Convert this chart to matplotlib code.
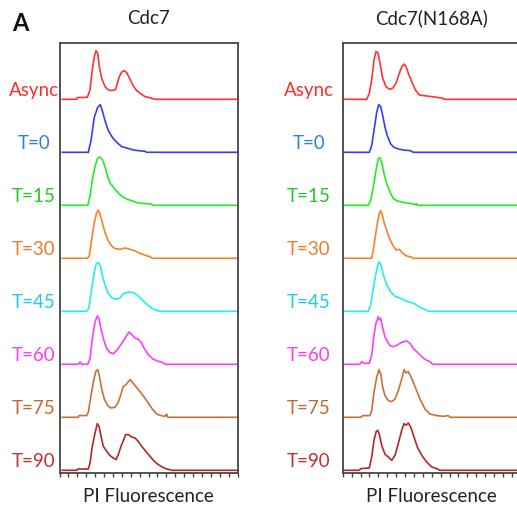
import matplotlib.pyplot as plt
import numpy as np

plt.rcParams['font.family'] = ['Lato', 'DejaVu Sans']

labels = ["Async", "T=0", "T=15", "T=30", "T=45", "T=60", "T=75", "T=90"]
line_colors = ["#ff3333", "#3a3aff", "#22ee22", "#ff7f27", "#22eeee", "#ff3cff", "#c8703a", "#b0282c"]
label_colors = ["#ff2a2a", "#2a7fe0", "#20c820", "#f07a2a", "#20c8e8", "#ff3cf0", "#c06a30", "#c03034"]

# histogram outlines, (channel, counts) pairs; counts in trace units above each baseline
wt_async = [(2.8, 0), (17.2, 0), (17.8, 1.7), (27.8, 2), (30.5, 9.3), (32.8, 29.3), (34.8, 42.7),
            (36.5, 48.7), (38.2, 46), (39.8, 32.7), (42.2, 21), (45.5, 12.7), (48.8, 9.3), (52.8, 8.7),
            (56.2, 10), (59.5, 22), (62.2, 27.3), (64.8, 28.7), (67.2, 26.7), (70.5, 20), (73.8, 13.3),
            (77.2, 8.7), (81.5, 5.3), (85.5, 2.7), (88.8, 2), (95.5, 0), (177.2, 0)]
wt_t0 = [(2.8, 0), (28.8, 0), (31.5, 11.7), (34.8, 35), (38.2, 45), (40.8, 47.7), (42.8, 41.7),
         (45.5, 31.7), (48.8, 21.7), (52.8, 15), (57.2, 10), (62.2, 5.7), (67.2, 4.3), (73.8, 2.3),
         (78.8, 1.7), (85.5, 1), (87.2, 0), (177.2, 0)]
wt_t15 = [(2.8, 0), (28.2, 0), (30.5, 9), (32.8, 25.7), (35.5, 39), (38.2, 47.3), (40.5, 48.3),
          (42.8, 45.7), (45.5, 39), (48.2, 29), (50.5, 22.3), (53.8, 18.3), (57.2, 14), (62.2, 9),
          (67.2, 6.3), (73.8, 4), (78.8, 2.3), (85.5, 1.7), (92.2, 1.3), (92.8, 0), (177.2, 0)]
wt_t30 = [(2.8, 0), (27.8, 0), (29.8, 2.3), (32.2, 19), (34.8, 35.7), (37.2, 45.7), (38.8, 48.3),
          (40.5, 44), (42.8, 35.7), (45.5, 25.7), (48.8, 17.3), (52.2, 12.3), (55.5, 9.7), (60.5, 9),
          (65.5, 10.3), (70.5, 9), (75.5, 7.3), (80.5, 5), (85.5, 3), (90.5, 1.7), (92.8, 0), (177.2, 0)]
wt_t45 = [(2.8, 0), (27.2, 0), (29.5, 3.3), (32.2, 22.7), (34.8, 39.3), (36.8, 47.7), (38.8, 48.7),
          (40.8, 46), (42.8, 36), (45.5, 26), (48.8, 17.7), (52.8, 13.3), (57.2, 12), (60.5, 13.3),
          (63.8, 17.7), (68.8, 19.3), (73.8, 18.7), (78.2, 16), (81.5, 12.7), (85.5, 8.7), (90.5, 4.3),
          (94.8, 1.7), (100.5, 0), (177.2, 0)]
wt_t60 = [(2.8, 0), (18.8, 0), (20.5, 2.3), (22.2, 0), (28.2, 0), (30.5, 5.7), (32.8, 25.7), (35.5, 42.3),
          (37.8, 48.3), (39.5, 45.7), (41.5, 35.7), (43.8, 25.7), (47.2, 15.7), (50.5, 11.7), (53.8, 10.7),
          (57.2, 14), (62.2, 20.7), (66.2, 27.3), (69.5, 32.3), (72.2, 29.7), (75.5, 26.3), (78.8, 25),
          (81.5, 22.3), (84.8, 15.7), (88.8, 9.7), (93.8, 5), (98.8, 3), (103.8, 1.7), (105.5, 0), (177.2, 0)]
wt_t75 = [(2.8, 0), (18.8, 0), (19.5, 1.7), (27.2, 1.7), (28.8, 5), (31.5, 21.7), (33.8, 35), (36.2, 45.7),
          (38.2, 47.7), (39.8, 41.7), (42.2, 28.3), (44.8, 18.3), (48.2, 11.7), (51.5, 9.3), (55.5, 10),
          (58.8, 15), (61.5, 23.3), (63.8, 31), (66.2, 32.3), (68.8, 35.7), (70.8, 37.7), (72.8, 35),
          (76.2, 31), (80.5, 25.7), (84.8, 20), (88.8, 14.3), (92.8, 8.3), (97.2, 3.3), (101.5, 1.7),
          (105.5, 1), (107.2, 3.3), (108.2, 0), (177.2, 0)]
wt_t90 = [(2.8, 0), (17.2, 0), (18.2, 1.3), (28.8, 1.3), (30.5, 7.3), (32.8, 24), (35.5, 37.3), (37.8, 46.7),
          (39.5, 44), (41.5, 34), (43.8, 24), (47.2, 19), (50.5, 14.7), (53.8, 12.3), (56.5, 10.7),
          (58.8, 15.7), (61.5, 24), (64.2, 30.7), (66.2, 35.7), (68.8, 35.7), (72.2, 33.3), (75.5, 32.3),
          (78.8, 29), (82.2, 24), (86.2, 19), (90.5, 14), (94.8, 9), (98.8, 5.7), (102.8, 3.3),
          (107.2, 1.3), (112.2, 0), (177.2, 0)]

mut_async = [(1.3, 0), (24, 0), (26.6, 6), (29, 19.3), (31.3, 39.3), (33.3, 47.7), (35.3, 46.7), (37.3, 36),
             (40, 21), (43.3, 12.7), (46.6, 10), (50, 11), (53.3, 16), (56.6, 26), (59.3, 32.7), (61.3, 35.3),
             (63.3, 32.7), (65.6, 26), (69, 17.7), (72.3, 10), (76.6, 4.3), (84, 3.3), (94, 2), (100.6, 1),
             (101.3, 0), (180, 0)]
mut_t0 = [(1.3, 0), (26.6, 0), (29, 6.7), (31.3, 21.7), (34, 40), (36, 47.7), (38, 45.7), (40, 36.7),
          (42.3, 25), (44.6, 16.7), (48, 8.3), (51.3, 5), (55.6, 3.3), (60.6, 2.3), (67.3, 1.7), (70.6, 0),
          (180, 0)]
mut_t15 = [(1.3, 0), (25.6, 0), (28, 5), (30.6, 18.3), (33.3, 35), (35.6, 46.7), (37.3, 47.7), (39.3, 41.7),
           (41.3, 31.7), (44, 21.7), (47.3, 13.3), (50.6, 6.7), (54.6, 4.3), (59, 3.3), (64, 2.3), (69, 1.7),
           (72.3, 0.7), (74, 1.7), (74.6, 0), (180, 0)]
mut_t30 = [(1.3, 0), (29, 0), (30.6, 8.3), (32.6, 21.7), (34.6, 35), (36.6, 45), (38, 47.7), (39.6, 43.3),
           (41.6, 35), (44, 28.3), (46.6, 20), (50, 13.3), (53.3, 8.3), (56.6, 9), (60, 5), (64, 2.3),
           (69, 1), (70.6, 0), (180, 0)]
mut_t45 = [(1.3, 0), (25.6, 0), (28, 6.7), (30.6, 23.3), (33.3, 38.3), (36, 49.3), (38, 47.3), (40.6, 36.7),
           (44, 26.7), (48, 19.3), (52.3, 15), (57.3, 13.3), (62.3, 10.7), (67.3, 9.3), (72.3, 7.3),
           (77.3, 4), (82.3, 1.7), (86.6, 0), (180, 0)]
mut_t60 = [(1.3, 0), (17.3, 0), (19, 2.7), (21.3, 1), (26.6, 1), (29, 9.3), (31.3, 29.3), (33.3, 41),
           (35.6, 47.7), (36.6, 44.3), (38, 46), (40, 36), (42.3, 27.7), (44.6, 22.7), (47.3, 18.7),
           (50.6, 17.7), (54.6, 19.3), (59, 22), (64, 23.3), (67.3, 21), (70.6, 16), (74.6, 12), (79, 7.7),
           (83.3, 4.3), (87.3, 2.7), (90, 0), (180, 0)]
mut_t75 = [(1.3, 0), (18, 0), (20, 1.7), (27.3, 1.7), (29, 6.7), (31.3, 25), (34, 40), (36.3, 47.7),
           (38, 43.3), (40, 30), (42.3, 21.7), (45.6, 16.7), (49, 15.7), (52.3, 18.3), (55.6, 26.7),
           (59, 38.3), (61.3, 47.7), (63.3, 44.3), (65.6, 45.7), (68, 41), (71.3, 33.3), (74.6, 25), (78, 16.7),
           (82.3, 8.3), (87.3, 3.3), (94, 1.7), (100.6, 1), (105.6, 1.7), (107.3, 0), (180, 0)]
mut_t90 = [(0.6, 0), (16.6, 0), (18, 1.7), (26.6, 2.3), (29, 13.3), (31.3, 30), (33.3, 38.3), (35, 40),
           (36.6, 36), (39, 25), (42.3, 16), (45.6, 13.3), (49, 10), (52.3, 15), (55.6, 26.7), (59, 40),
           (61.3, 46.7), (63.3, 45), (65.6, 47.3), (68, 43.3), (71.3, 33.3), (74.6, 23.3), (79, 15),
           (84, 8.3), (89, 3.3), (94, 1.7), (97.3, 0), (180, 0)]

panels = [
    ("Cdc7", [wt_async, wt_t0, wt_t15, wt_t30, wt_t45, wt_t60, wt_t75, wt_t90], 59.5, 34),
    ("Cdc7(N168A)", [mut_async, mut_t0, mut_t15, mut_t30, mut_t45, mut_t60, mut_t75, mut_t90], 342.7, 309),
]

W, H = 517, 509
fig = plt.figure(figsize=(W / 100, H / 100), dpi=100)

ax_w, ax_bot, ax_top = 178, 473.3, 42.7
step = 53
frame = "#454545"
fs = 13.5

for title, traces, left_px, label_px in panels:
    ax = fig.add_axes([left_px / W, (H - ax_bot) / H, ax_w / W, (ax_bot - ax_top) / H])
    n = len(traces)
    for i, tr in enumerate(traces):
        xs, ys = np.array(tr).T
        base = 3 + step * (n - 1 - i)
        ax.plot(xs, ys + base, color=line_colors[i], lw=1.2, solid_joinstyle="round")
        ax.text((label_px - left_px) / ax_w, base + 9, labels[i], color=label_colors[i],
                fontsize=fs, ha="center", va="center",
                transform=ax.get_yaxis_transform(), clip_on=False)
    ax.set_xlim(0, ax_w)
    ax.set_ylim(0, ax_bot - ax_top)
    ax.set_xticks(np.linspace(0, ax_w, 21))
    ax.set_xticklabels([])
    ax.set_yticks([])
    ax.tick_params(axis="x", direction="out", length=3, width=1, color=frame)
    for s in ax.spines.values():
        s.set_color(frame)
        s.set_linewidth(1.3)

    cx = (left_px + ax_w / 2) / W
    fig.text(cx, 1 - 18 / H, title, ha="center", va="center", fontsize=fs, color="#222222")
    fig.text(cx, 1 - 496 / H, "PI Fluorescence", ha="center", va="center", fontsize=fs, color="#222222")

fig.text(20.5 / W, 1 - 23.5 / H, "A", ha="center", va="center", fontsize=17, fontweight="bold", color="#111111")

fig.savefig("out.png", dpi=100)
